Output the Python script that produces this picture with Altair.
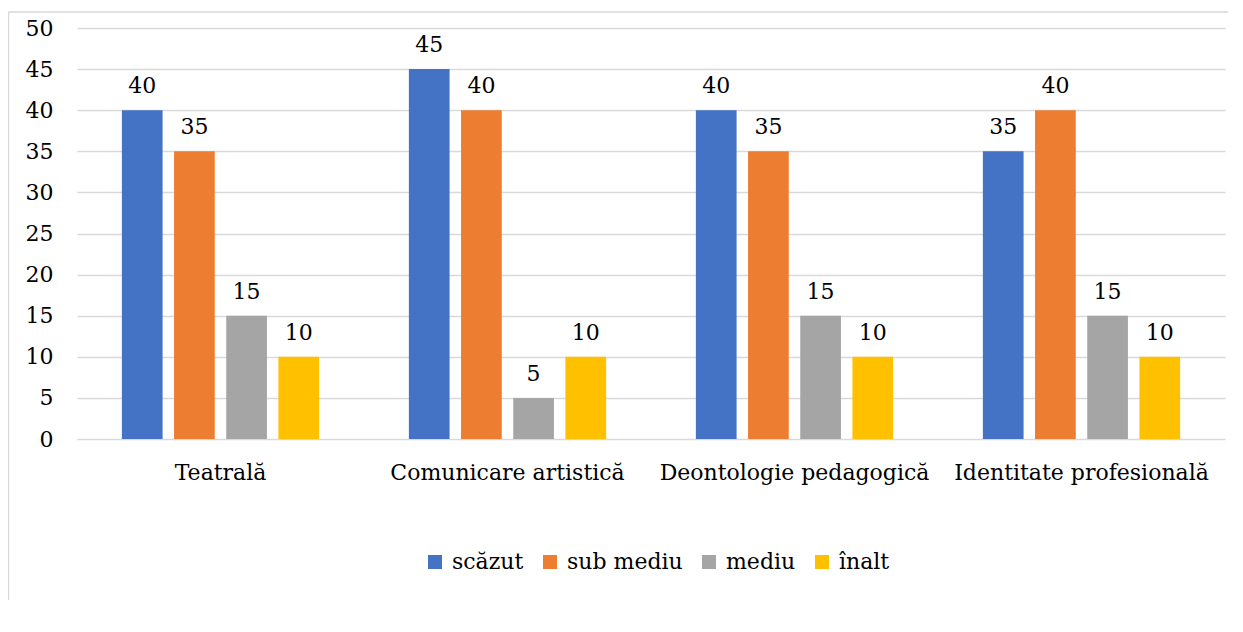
import altair as alt
import pandas as pd

categories = ["Teatrală", "Comunicare artistică", "Deontologie pedagogică", "Identitate profesională"]
levels = ["scăzut", "sub mediu", "mediu", "înalt"]
scazut = [40, 45, 40, 35]
sub_mediu = [35, 40, 35, 40]
mediu = [15, 5, 15, 15]
inalt = [10, 10, 10, 10]
colors = ["#4472C4", "#ED7D31", "#A5A5A5", "#FFC000"]

rows = []
for i, c in enumerate(categories):
    for lvl, vals in zip(levels, [scazut, sub_mediu, mediu, inalt]):
        rows.append({"cat": c, "level": lvl, "value": vals[i]})
df = pd.DataFrame(rows)

FONT = "DejaVu Serif"
FS = 22

x = alt.X("cat:N", sort=categories, title=None,
          scale=alt.Scale(paddingInner=0, paddingOuter=0),
          axis=alt.Axis(labelAngle=0, domain=False, ticks=False, labelFontSize=FS,
                        labelFont=FONT, labelColor="#000000", labelPadding=23,
                        labelLimit=400))
xo = alt.XOffset("level:N", sort=levels,
                 scale=alt.Scale(paddingInner=0.22, paddingOuter=0.86))
y = alt.Y("value:Q", title=None,
          scale=alt.Scale(domain=[0, 50], nice=False),
          axis=alt.Axis(values=list(range(0, 51, 5)), domain=False, ticks=False,
                        tickSize=0, labelPadding=24, labelFontSize=FS, labelFont=FONT,
                        labelColor="#000000", gridColor="#d9d9d9", gridWidth=1.5))
color = alt.Color("level:N", sort=levels,
                  scale=alt.Scale(domain=levels, range=colors),
                  legend=alt.Legend(title=None, orient="none", legendX=347, legendY=523,
                                    direction="horizontal", symbolType="square",
                                    symbolSize=196, symbolStrokeWidth=0,
                                    labelFontSize=FS, labelFont=FONT,
                                    labelColor="#000000",
                                    columnPadding=15, labelOffset=6, padding=0))

base = alt.Chart(df)
bars = base.mark_bar().encode(x=x, xOffset=xo, y=y, color=color)
labels = base.mark_text(font=FONT, fontSize=FS, color="#000000", baseline="alphabetic",
                        dy=-17).encode(x=x, xOffset=xo, y=y, text="value:Q")
left_line = alt.Chart(alt.Data(values=[{}])).mark_rule(
    stroke="#d9d9d9", strokeWidth=1.5
).encode(x=alt.value(-68.5), y=alt.value(-16), y2=alt.value(572))
top_line = alt.Chart(alt.Data(values=[{}])).mark_rule(
    stroke="#d9d9d9", strokeWidth=1.5
).encode(x=alt.value(-68.5), x2=alt.value(1151), y=alt.value(-16))

chart = alt.layer(left_line, top_line, bars, labels).properties(
    width=1148, height=411,
    autosize=alt.AutoSizeParams(type="none"),
    padding={"left": 69, "top": 20, "right": 3, "bottom": 169},
).configure_view(stroke=None)

chart.save("out.html", embed_options={"renderer": "svg", "actions": False})
